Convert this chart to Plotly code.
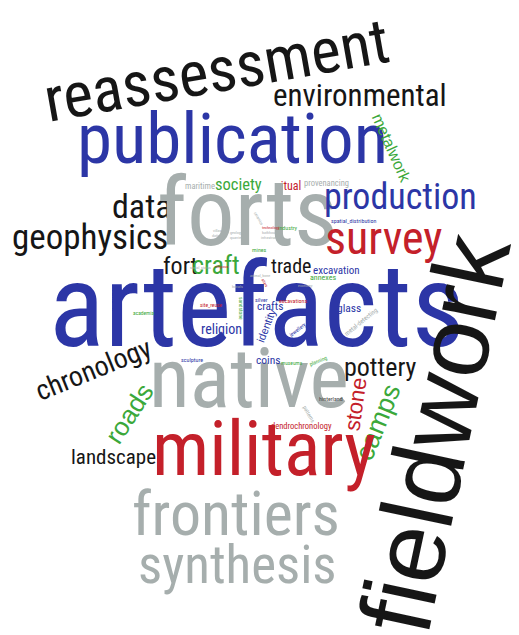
import plotly.graph_objects as go

# ---- data: words of the cloud and their weights (font size in px) ----
words = [
    "reassessment", "environmental", "publication", "metalwork", "maritime",
    "society", "ritual", "provenancing", "data", "forts", "production",
    "spatial_distribution", "geophysics", "survey", "fort", "craft", "trade",
    "excavation", "annexes", "artefacts", "glass", "metal-detecting",
    "fieldwork", "pottery", "stone", "camps", "chronology", "roads",
    "landscape", "native", "military", "frontiers", "synthesis",
    "dendrochronology", "hinterland", "patterns", "sculpture", "academia",
    "religion", "site_reuse", "crafts", "silver", "excavations", "identity",
    "jewellery", "coins", "museums", "planning", "industry", "mines",
    "sandstone",
    "villas", "dating", "geology", "quarries", "technology", "bathhouses",
    "infrastructure", "ceramics", "social_status", "religious",
    "animal_bone", "altars", "economy", "burials",
]
weights = [
    63, 31, 71, 16, 8.5,
    16.5, 12, 8.5, 34, 95, 36,
    6, 35, 46, 24, 26, 20,
    11, 8, 116, 11.5, 6.5,
    102, 26, 22, 27, 28, 26,
    21, 84, 76, 62, 53,
    8.5, 6, 5.5, 6, 5.5,
    14, 5.5, 11.5, 6, 6, 11,
    5.5, 11.5, 5.5, 5.5, 6, 6,
    5.5,
    4, 4, 4, 4, 4, 4,
    4, 4, 4, 4,
    4, 4, 4, 4,
]
colour_group = [
    "K", "K", "B", "G", "Gr",
    "G", "R", "Gr", "K", "Gr", "B",
    "B", "K", "R", "K", "G", "K",
    "B", "G", "B", "B", "Gr",
    "K", "K", "R", "G", "K", "G",
    "K", "Gr", "R", "Gr", "Gr",
    "R", "K2", "Gr", "B", "G",
    "B", "R", "B", "B", "R", "B",
    "B", "B", "G", "G", "G", "G",
    "G",
    "Gr", "Gr", "Gr", "Gr", "R", "Gr",
    "Gr", "Gr", "Gr", "R",
    "Gr", "R", "Gr", "Gr",
]

# ---- placement of each word (centre x, centre y in px, angle, face) ----
placement = [
    (208, 62, -10, "N"), (352, 87, 0, "N"), (224, 130, 0, "N"), (384, 140, 66, "W"), (192, 178, 0, "N"),
    (230, 176, 0, "N"), (281, 178, 0, "N"), (318, 175, 0, "N"), (134, 198, 0, "N"), (239, 204, 0, "N"), (392, 189, 0, "N"),
    (345, 212, 0, "N"), (82, 229, 0, "N"), (375, 230, 0, "N"), (172, 258, 0, "N"), (208, 257, 0, "N"), (283, 258, 0, "N"),
    (328, 262, 0, "N"), (315, 269, 0, "N"), (249, 298, 0, "N"), (341, 300, 0, "N"), (353, 314, -39, "N"),
    (427, 426, -78, "W"), (372, 359, 0, "N"), (347, 396, -82, "W"), (370, 414, -68, "W"), (85, 361, -22, "N"), (121, 406, -57, "W"),
    (105, 449, 0, "N"), (241, 370, 0, "N"), (256, 441, 0, "N"), (228, 505, 0, "N"), (229, 557, 0, "N"),
    (293, 418, 0, "N"), (323, 390, 0, "N"), (301, 406, 60, "N"), (184, 351, 0, "N"), (136, 305, 0, "N"),
    (213, 321, 0, "N"), (203, 297, 0, "N"), (262, 298, 0, "N"), (253, 291, 0, "N"), (285, 292, 0, "N"), (258, 318, -69, "W"),
    (289, 322, -38, "N"), (260, 352, 0, "N"), (284, 355, 0, "N"), (310, 353, -22, "N"), (280, 219, 0, "N"), (251, 241, 0, "N"),
    (233, 300, 90, "N"),
    (209, 222, 0, "N"), (209, 227, 0, "N"), (228, 224, 0, "N"), (228, 229, 0, "N"), (263, 219, 0, "N"), (263, 224, 0, "N"),
    (263, 229, 0, "N"), (251, 210, 60, "N"), (192, 259, 0, "N"), (214, 258, 0, "N"),
    (252, 267, 0, "N"), (257, 274, 60, "N"), (297, 277, 0, "N"), (229, 278, 0, "N"),
]

palette = {
    "K": "#161616", "K2": "#444444", "B": "#2C36A6", "R": "#C4202A",
    "Gr": "#A6AEAD", "G": "#3BA83A",
}
faces = {
    "N": "Roboto Condensed, DejaVu Sans Condensed, sans-serif",
    "W": "Liberation Sans, Arial, sans-serif",
}

fig = go.Figure()
fig.add_trace(go.Scatter(x=[0, 519], y=[0, 635], mode="markers",
                         marker=dict(opacity=0), hoverinfo="skip", showlegend=False))

for w, s, c, (x, y, ang, face) in zip(words, weights, colour_group, placement):
    fig.add_annotation(
        x=x, y=y, xref="x", yref="y", text=w, showarrow=False,
        textangle=ang, xanchor="center", yanchor="middle",
        font=dict(size=s, color=palette[c], family=faces[face]),
    )

fig.update_layout(
    width=519, height=635, margin=dict(l=0, r=0, t=0, b=0),
    paper_bgcolor="white", plot_bgcolor="white", showlegend=False,
    xaxis=dict(range=[0, 519], visible=False, fixedrange=True),
    yaxis=dict(range=[635, 0], visible=False, fixedrange=True),
)

fig.write_html("out.html")
